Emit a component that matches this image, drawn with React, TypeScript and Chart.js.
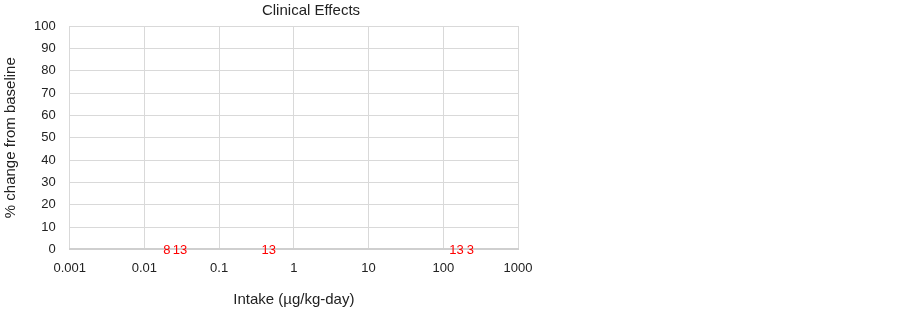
import React, { useEffect, useRef } from "react";
import { Chart, registerables } from "chart.js";

Chart.register(...registerables);

const chartTitle = "Clinical Effects";
const xAxisTitle = "Intake (µg/kg-day)";
const yAxisTitle = "% change from baseline";

const intake = [0.02, 0.03, 0.46, 150, 230];
const percentChange = [0, 0, 0, 0, 0];
const studyLabels = ["8", "13", "13", "13", "3"];

const xTickValues = [0.001, 0.01, 0.1, 1, 10, 100, 1000];
const xTickLabels = ["0.001", "0.01", "0.1", "1", "10", "100", "1000"];

const FONT = "'Liberation Sans', Arial, sans-serif";
const TEXT = "#222";

const labelPlugin = {
  id: "studyLabels",
  afterDatasetsDraw(chart: any) {
    const meta = chart.getDatasetMeta(0);
    const ctx = chart.ctx;
    ctx.save();
    ctx.fillStyle = "#ff0000";
    ctx.font = `13px ${FONT}`;
    ctx.textAlign = "center";
    ctx.textBaseline = "middle";
    meta.data.forEach((el: any, i: number) => {
      ctx.fillText(studyLabels[i], el.x, el.y + 1);
    });
    ctx.restore();
  },
};

const titlePlugin = {
  id: "canvasTitle",
  afterDraw(chart: any) {
    const ctx = chart.ctx;
    ctx.save();
    ctx.fillStyle = TEXT;
    ctx.font = `15px ${FONT}`;
    ctx.textAlign = "center";
    ctx.textBaseline = "middle";
    ctx.fillText(chartTitle, chart.width / 2, 11);
    ctx.restore();
  },
};

export default function App() {
  const ref = useRef<HTMLCanvasElement | null>(null);
  useEffect(() => {
    if (!ref.current) return;
    const chart = new Chart(ref.current, {
      type: "scatter",
      data: {
        datasets: [
          {
            data: intake.map((x, i) => ({ x, y: percentChange[i] })),
            pointRadius: 0,
            pointHoverRadius: 0,
            showLine: false,
          },
        ],
      },
      options: {
        responsive: false,
        animation: false,
        events: [],
        layout: { padding: { left: -2, right: 104, top: 26, bottom: 0 } },
        plugins: {
          legend: { display: false },
          tooltip: { enabled: false },
          title: { display: false },
        },
        scales: {
          x: {
            type: "logarithmic",
            min: 0.001,
            max: 1000,
            afterBuildTicks: (scale: any) => {
              scale.ticks = xTickValues.map((v) => ({ value: v }));
            },
            ticks: {
              color: TEXT,
              font: { family: FONT, size: 13 },
              padding: 11,
              autoSkip: false,
              maxRotation: 0,
              callback: (_v: any, i: number) => xTickLabels[i],
            },
            grid: { color: "#d9d9d9", drawTicks: false },
            border: { color: "#cfcfcf", width: 2 },
            title: {
              display: true,
              text: xAxisTitle,
              color: TEXT,
              font: { family: FONT, size: 15 },
              padding: { top: 4, bottom: 0 },
            },
          },
          y: {
            min: 0,
            max: 100,
            ticks: {
              stepSize: 10,
              color: TEXT,
              font: { family: FONT, size: 13 },
              padding: 14,
            },
            grid: { color: "#d9d9d9", drawTicks: false },
            border: { display: false },
            title: {
              display: true,
              text: yAxisTitle,
              color: TEXT,
              font: { family: FONT, size: 15 },
              padding: { top: 4, bottom: 0 },
            },
          },
        },
      },
      plugins: [labelPlugin, titlePlugin],
    });
    return () => chart.destroy();
  }, []);
  return (
    <div style={{ position: "absolute", left: 0, top: 0, width: 903, height: 309, background: "#fff" }}>
      <canvas ref={ref} width={622} height={309} style={{ display: "block" }} />
    </div>
  );
}
